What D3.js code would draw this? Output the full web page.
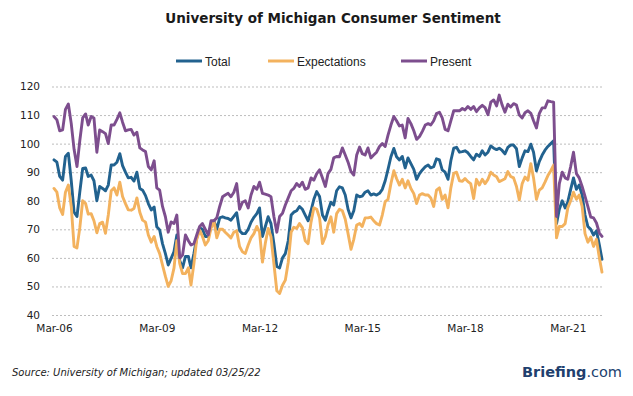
<!DOCTYPE html>
<html><head><meta charset="utf-8">
<script src="https://cdn.jsdelivr.net/npm/d3@7"></script>
<style>body{margin:0;background:#fff}</style>
</head><body><svg id="c" width="633" height="396"></svg>
<script>
const startMonth = "Mar-06";
const tickLabels = ["Mar-06","Mar-09","Mar-12","Mar-15","Mar-18","Mar-21"];
const yTicks = [40,50,60,70,80,90,100,110,120];
const seriesNames = ["Total","Expectations","Present"];
const seriesColors = ["#22628F","#F3B25E","#7D4E8E"];

const total = [94.3,93.5,88.5,87.2,95.5,96.6,87,76,74.5,83,
91.3,91.5,88.5,89,87,80,85,84.3,83.5,85.5,
92.5,92.5,93.5,96.5,92.3,90,88,88.2,86.9,90,
84.3,83.7,81.8,79,76.8,77.8,70.9,69.8,65,61.5,
57.5,59.8,62.2,68,59,56.5,60.5,60.5,56.5,61.5,
67,70.5,70,67.5,67.5,71,73,70,74,74.4,
74,73.8,73.2,74.5,75.8,69.5,68.5,68.5,70,72.5,
74.2,75.5,77.5,67.5,70.9,74.4,72,65,57,56.5,
60,61.5,66,75,76,76.5,78,77,75,73,
76.5,80.5,83.2,81.5,75,73.2,76.5,79.5,78.5,83.5,
84.9,84.5,82,77,74,76.5,82,81.4,81.6,83,
83.5,82,82.4,82,82.6,84,87,91,95.4,98.3,
95.4,94.3,95.5,91.5,95,93,91,87.5,89.5,90.8,
91.9,92.5,91.5,91.9,94.7,94.3,90.8,90,87.5,94,
98.4,98.7,97,97.2,97.5,96.8,95.5,94.3,96.3,95.5,
97.5,96,97,99.2,98.4,97.9,98.4,97.6,96.4,98.7,
99.5,99.5,98.2,92,95,97.5,97.2,99.8,97,90.5,
93.7,96,97.7,99,100,101,72,77,80,77.5,
79.5,84,88,84,85.5,82,75,71,70,68,
69.5,64.5,59.5];

const expectations = [84.3,83,77.5,75.2,83,85.5,78,64,63.5,70.5,
80,79,75.3,75.5,73,68.8,72,72.5,68.6,75,
83.5,84.5,82,86.5,81.5,79,76.8,76.7,77.3,81,
76,73.2,72.5,68,65.5,67.5,64,61.5,57.5,53.5,
50,52,56.5,66,58,54.5,54.5,56.5,50.5,58,
66.5,69.7,67.5,64.5,66,70.5,72.8,67,70,70,
69,68,67,69,69.5,64,62.1,61.5,64.5,67,
68.5,71,69,58.5,65,70.3,67.4,58,48.5,47.5,
50.4,52.2,58.5,69,70.7,70.3,72,70.5,66,65,
72.5,77.5,77,74,65,67.4,71.5,74.4,69,75.5,
77,76.5,73.5,68.5,63,66.5,71.5,72,71,74,
74,74.3,73,72,71.5,75,79.7,80.5,86,90.5,
87.8,85.5,87.5,84.5,87,84.3,82.5,79,82,82.5,
82,82,81,78,83.7,84.5,80.5,82,77.5,84.5,
89.6,90,87,86.8,87.8,86.7,86,80.8,87.5,85.5,
87.5,86,87.5,90,89,88.4,86.7,87.2,87.7,90.2,
88.5,88,85,80.3,86,88.3,87.2,93,88,80.5,
83.7,84.5,86.5,88.8,90.5,92.5,67,71,71,72,
77.5,80,83,80.5,82,78,68.5,65.5,67.3,64,
66.5,60,55];

const present = [109.5,108.3,104.5,104.8,112,113.9,107,98,92,101,
109,110.4,106.5,109.5,109,97,104.8,104.2,103.5,100,
106.5,106.5,108.5,110.8,107.5,104.5,104.8,105,103,104,
98.5,97.8,97.2,92,90.8,94,84.5,83.7,78,74.4,
69,72.6,72,75,60,61,68,66,64.5,65,
68,71,72,70,68,73,73,74,78,81.4,
82,82.6,81.4,83,86,77,79.5,80,77.5,82,
85,84,86.5,82.6,82.3,82,81.4,74.5,69,74.5,
75.6,78.5,81,83.5,84.3,86,85,86.5,84,84.5,
88,87.2,89.5,90.8,88,85,89.5,91,95,95.5,
95.4,98.5,96,93.5,90.2,89,96,98.8,96.5,96,
98.5,95,96,97,99,100,99,103,106.5,109.5,
108,106.2,106.5,102,108.8,107,104.5,101.5,102.5,104.3,
106.5,107,106.5,108,110.5,111,109,105,104.5,108,
111.5,111.5,111.5,112.3,111.8,113,112,113,111.2,112.5,
113.4,112.6,110.1,114.5,115.3,113.2,117,113.5,111,113.8,
112.8,114,113.5,110,109,110.8,111.5,110.6,108,105.5,
110.5,112.5,112.5,115,114.7,114.5,74.5,86,90,88,
87.5,92,97,89.5,88,85,81.5,78,74.3,74,
72.2,68.7,67.5];

const svg = d3.select("#c");
svg.append("rect").attr("width",633).attr("height",396).attr("fill","#fff");

const parse = d3.timeParse("%b-%y");
const start = parse(startMonth);
const dates = total.map((_, i) => d3.timeMonth.offset(start, i));
const x = d3.scaleTime().domain([dates[0], dates[dates.length-1]]).range([54, 602]);
const y = d3.scaleLinear().domain([40,120]).range([315, 86.5]);
const gridLeft = 52, gridRight = 603;

// y axis + gridlines
const yAxis = svg.append("g").attr("transform",`translate(${gridLeft},0)`)
  .call(d3.axisLeft(y).tickValues(yTicks).tickSize(-(gridRight-gridLeft)).tickPadding(12).tickFormat(d3.format("d")));
yAxis.select(".domain").remove();
yAxis.selectAll(".tick line").attr("stroke","#bdbdbd").attr("stroke-dasharray","2,2").attr("stroke-width",1);
yAxis.selectAll(".tick text").attr("font-family","DejaVu Sans").attr("font-size",10.5).attr("fill","#222");

// x axis labels
const xAxis = svg.append("g").attr("transform","translate(0,315)")
  .call(d3.axisBottom(x).tickValues(tickLabels.map(parse)).tickFormat((d,i)=>tickLabels[i]).tickSize(0).tickPadding(10));
xAxis.select(".domain").remove();
xAxis.selectAll(".tick text").attr("font-family","DejaVu Sans").attr("font-size",10.5).attr("fill","#222");

// lines
const seriesData = [total, expectations, present];
const line = d3.line().x((d,i)=>x(dates[i])).y(d=>y(d)).curve(d3.curveLinear);
seriesData.forEach((s,k)=>{
  svg.append("path").datum(s).attr("d",line).attr("fill","none")
    .attr("stroke",seriesColors[k]).attr("stroke-width",2.9)
    .attr("stroke-linejoin","round").attr("stroke-linecap","round");
});

// title
svg.append("text").attr("x",333).attr("y",23).attr("text-anchor","middle")
  .attr("font-family","DejaVu Sans").attr("font-weight","bold").attr("font-size",13.5).attr("fill","#1a1a1a")
  .text("University of Michigan Consumer Sentiment");

// legend
const legendX = [176, 268, 401];
seriesNames.forEach((n,k)=>{
  const g = svg.append("g");
  g.append("line").attr("x1",legendX[k]).attr("x2",legendX[k]+26).attr("y1",61).attr("y2",61)
    .attr("stroke",seriesColors[k]).attr("stroke-width",3);
  g.append("text").attr("x",legendX[k]+29).attr("y",65.5).attr("font-family","Liberation Sans")
    .attr("font-size",12).attr("fill","#222").text(n);
});

// source
svg.append("text").attr("x",12).attr("y",376).attr("font-family","DejaVu Sans").attr("font-style","italic")
  .attr("font-size",10).attr("fill","#222").text("Source: University of Michigan; updated 03/25/22");

// brand
const b = svg.append("text").attr("x",622).attr("y",377).attr("text-anchor","end")
  .attr("font-family","DejaVu Sans").attr("font-size",14.5).attr("fill","#213f6e");
b.append("tspan").attr("font-weight","bold").text("Briefing");
b.append("tspan").text(".com");
</script></body></html>
